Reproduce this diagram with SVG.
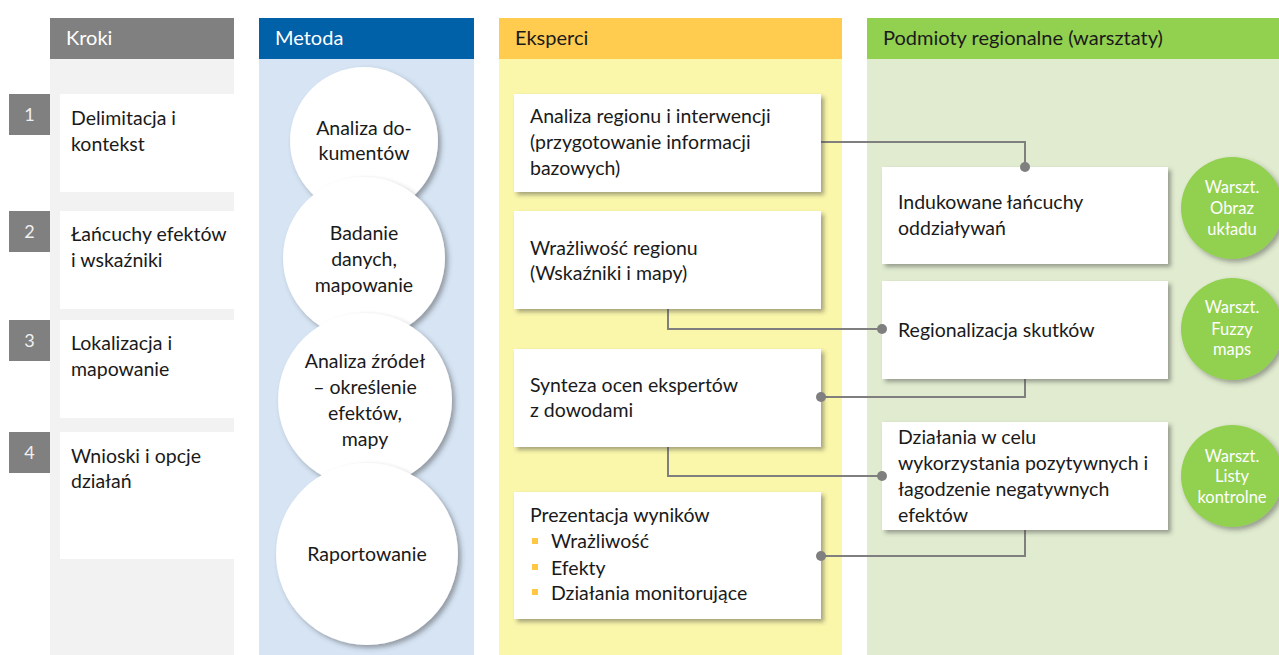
<svg xmlns="http://www.w3.org/2000/svg" width="1279" height="655" viewBox="0 0 1279 655">
<style>
text{font-family:Lato,"Liberation Sans",sans-serif;font-size:19.5px;fill:#1a1a1a}
.hd{font-size:20px}
.hw{fill:#ffffff}
.num{fill:#f0f0f0;font-size:18px;text-anchor:middle}
.c{text-anchor:middle}
.g{fill:#ffffff;font-size:16.5px;text-anchor:middle}
.box{fill:#ffffff}
.sbox{fill:#ffffff;filter:url(#sh)}
.circ{fill:#ffffff;filter:url(#shc)}
.gc{fill:#92d050;filter:url(#shc)}
.conn{fill:none;stroke:#7f7f7f;stroke-width:2}
.dot{fill:#7f7f7f}
.bul{fill:#ffc744}
</style>
<defs>
<filter id="sh" x="-10%" y="-10%" width="130%" height="130%">
<feDropShadow dx="3" dy="3" stdDeviation="2" flood-color="#404040" flood-opacity="0.45"/>
</filter>
<filter id="shc" x="-20%" y="-20%" width="150%" height="150%">
<feDropShadow dx="3" dy="3" stdDeviation="2.5" flood-color="#404040" flood-opacity="0.45"/>
</filter>
</defs>
<rect width="1279" height="655" fill="#ffffff"/>

<g id="col-kroki">
<rect x="50" y="59" width="184" height="596" fill="#f2f2f2"/>
<rect x="50" y="18" width="184" height="41" fill="#808080"/>
<text x="66" y="45" class="hd hw">Kroki</text>
</g>
<g id="col-metoda">
<rect x="259" y="59" width="215" height="596" fill="#d6e4f4"/>
<rect x="259" y="18" width="215" height="41" fill="#0060a8"/>
<text x="275" y="45" class="hd hw">Metoda</text>
</g>
<g id="col-eksperci">
<rect x="499" y="59" width="343" height="596" fill="#faf6aa"/>
<rect x="499" y="18" width="343" height="41" fill="#ffcc50"/>
<text x="515" y="45" class="hd">Eksperci</text>
</g>
<g id="col-podmioty">
<rect x="867" y="59" width="412" height="596" fill="#e0ebcf"/>
<rect x="867" y="18" width="412" height="41" fill="#92d050"/>
<text x="883" y="45" class="hd">Podmioty regionalne (warsztaty)</text>
</g>

<g id="step1">
<rect x="60" y="94" width="174" height="98" class="box"/>
<rect x="9" y="94" width="41" height="41" fill="#808080"/>
<text x="29.5" y="121" class="num">1</text>
<text x="71" y="125">Delimitacja i</text>
<text x="71" y="151">kontekst</text>
</g>
<g id="step2">
<rect x="60" y="211" width="174" height="98" class="box"/>
<rect x="9" y="211" width="41" height="41" fill="#808080"/>
<text x="29.5" y="238" class="num">2</text>
<text x="71" y="241">Łańcuchy efektów</text>
<text x="71" y="267">i wskaźniki</text>
</g>
<g id="step3">
<rect x="60" y="320" width="174" height="98" class="box"/>
<rect x="9" y="320" width="41" height="41" fill="#808080"/>
<text x="29.5" y="347" class="num">3</text>
<text x="71" y="350">Lokalizacja i</text>
<text x="71" y="376">mapowanie</text>
</g>
<g id="step4">
<rect x="60" y="432" width="174" height="127" class="box"/>
<rect x="9" y="432" width="41" height="41" fill="#808080"/>
<text x="29.5" y="459" class="num">4</text>
<text x="71" y="463">Wnioski i opcje</text>
<text x="71" y="488">działań</text>
</g>

<g id="m1">
<circle cx="364" cy="141" r="74" class="circ"/>
<text x="364" y="135" class="c">Analiza do-</text>
<text x="364" y="160" class="c">kumentów</text>
</g>
<g id="m2">
<circle cx="364" cy="258" r="81" class="circ"/>
<text x="364" y="240" class="c">Badanie</text>
<text x="364" y="266" class="c">danych,</text>
<text x="364" y="292" class="c">mapowanie</text>
</g>
<g id="m3">
<circle cx="365" cy="400" r="87" class="circ"/>
<text x="365" y="368" class="c">Analiza źródeł</text>
<text x="365" y="394" class="c">– określenie</text>
<text x="365" y="420" class="c">efektów,</text>
<text x="365" y="446" class="c">mapy</text>
</g>
<g id="m4">
<circle cx="367" cy="554" r="91" class="circ"/>
<text x="367" y="561" class="c">Raportowanie</text>
</g>

<g id="connectors">
<polyline class="conn" points="821,142 1025,142 1025,167"/>
<polyline class="conn" points="668,309 668,329 882,329"/>
<polyline class="conn" points="1025,379 1025,397 821,397"/>
<polyline class="conn" points="668,447 668,476 882,476"/>
<polyline class="conn" points="1025,530 1025,556 821,556"/>
</g>

<g id="e1">
<rect x="514" y="94" width="307" height="98" class="sbox"/>
<text x="530" y="123">Analiza regionu i interwencji</text>
<text x="530" y="149">(przygotowanie informacji</text>
<text x="530" y="175">bazowych)</text>
</g>
<g id="e2">
<rect x="514" y="211" width="307" height="98" class="sbox"/>
<text x="530" y="255">Wrażliwość regionu</text>
<text x="530" y="280">(Wskaźniki i mapy)</text>
</g>
<g id="e3">
<rect x="514" y="349" width="307" height="98" class="sbox"/>
<text x="530" y="392">Synteza ocen ekspertów</text>
<text x="530" y="417">z dowodami</text>
</g>
<g id="e4">
<rect x="514" y="492" width="307" height="127" class="sbox"/>
<text x="530" y="522">Prezentacja wyników</text>
<rect x="532" y="538" width="6" height="6" class="bul"/>
<text x="551" y="548">Wrażliwość</text>
<rect x="532" y="564" width="6" height="6" class="bul"/>
<text x="551" y="575">Efekty</text>
<rect x="532" y="589" width="6" height="6" class="bul"/>
<text x="551" y="600">Działania monitorujące</text>
</g>

<g id="r1">
<rect x="882" y="167" width="286" height="97" class="sbox"/>
<text x="898" y="209">Indukowane łańcuchy</text>
<text x="898" y="235">oddziaływań</text>
</g>
<g id="r2">
<rect x="882" y="281" width="286" height="98" class="sbox"/>
<text x="898" y="337">Regionalizacja skutków</text>
</g>
<g id="r3">
<rect x="882" y="422" width="286" height="108" class="sbox"/>
<text x="898" y="444">Działania w celu</text>
<text x="898" y="470">wykorzystania pozytywnych i</text>
<text x="898" y="496">łagodzenie negatywnych</text>
<text x="898" y="522">efektów</text>
</g>
<g id="connector-dots">
<circle class="dot" cx="1025" cy="167" r="5"/>
<circle class="dot" cx="882" cy="329" r="5"/>
<circle class="dot" cx="821" cy="397" r="5"/>
<circle class="dot" cx="882" cy="476" r="5"/>
<circle class="dot" cx="821" cy="556" r="5"/>
</g>

<g id="w1">
<circle cx="1232" cy="208" r="51" class="gc"/>
<text x="1232" y="193" class="g">Warszt.</text>
<text x="1232" y="214" class="g">Obraz</text>
<text x="1232" y="235" class="g">układu</text>
</g>
<g id="w2">
<circle cx="1232" cy="329" r="51" class="gc"/>
<text x="1232" y="313" class="g">Warszt.</text>
<text x="1232" y="335" class="g">Fuzzy</text>
<text x="1232" y="355" class="g">maps</text>
</g>
<g id="w3">
<circle cx="1232" cy="476" r="51" class="gc"/>
<text x="1232" y="462" class="g">Warszt.</text>
<text x="1232" y="482" class="g">Listy</text>
<text x="1232" y="503" class="g">kontrolne</text>
</g>
</svg>
